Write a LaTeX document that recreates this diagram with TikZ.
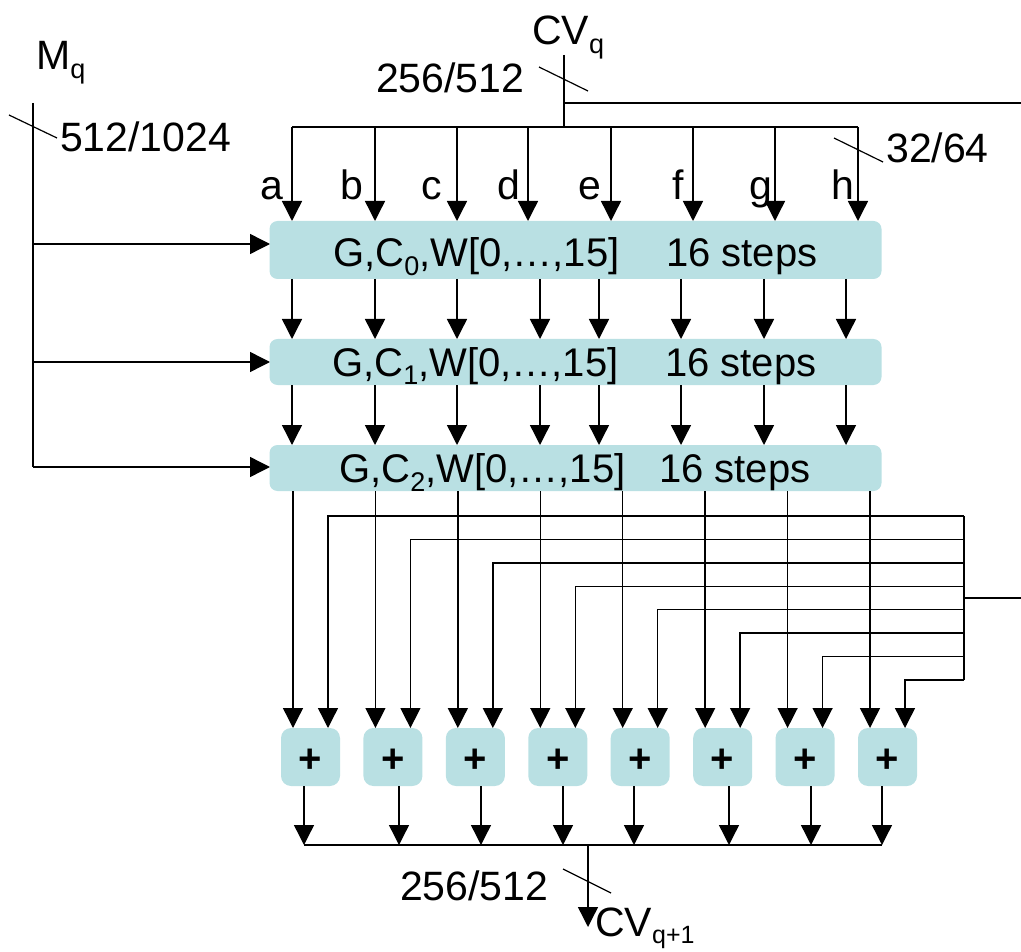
\documentclass[tikz,border=0pt]{standalone}
\usepackage{fontspec}
\setmainfont{Liberation Sans}
\usetikzlibrary{arrows.meta}
\definecolor{teal1}{RGB}{185,224,227}
\newcommand\lbsub[1]{\raisebox{-9pt}{\fontsize{27}{27}\selectfont #1}}
\newcommand\bxsub[1]{\raisebox{-9pt}{\fontsize{27}{27}\selectfont #1}}
\begin{document}
\begin{tikzpicture}[x=1pt,y=-1pt,
  ln/.style={line width=1.4pt},
  arr/.style={line width=1.4pt,-{Triangle[length=20pt,width=20pt]}},
  sl/.style={line width=1.2pt},
  lbl/.style={inner sep=0pt,font=\fontsize{41}{41}\selectfont},
  blk/.style={fill=teal1,draw=none,rounded corners=8pt,inner sep=0pt,minimum width=612pt},
  btxt/.style={inner sep=0pt,font=\fontsize{40}{40}\selectfont},
  plusbox/.style={fill=teal1,draw=none,rounded corners=10pt,minimum width=59pt,minimum height=58pt,inner sep=0pt},
  plustxt/.style={inner sep=0pt,font=\bfseries\fontsize{40}{40}\selectfont}]

\useasboundingbox (0,0) rectangle (1021,952);

% round boxes
\node[blk,minimum height=58pt] (r1) at (575.5,250) {};
\node[blk,minimum height=46pt] (r2) at (575.5,362) {};
\node[blk,minimum height=46pt] (r3) at (575.5,468) {};

\node[btxt,anchor=base west] (t1a) at (333,267) {G,C\bxsub{0},W[0,…,15]};
\node[btxt,anchor=base west] (t1b) at (666,267) {16 steps};
\node[btxt,anchor=base west] (t2a) at (332,376) {G,C\bxsub{1},W[0,…,15]};
\node[btxt,anchor=base west] (t2b) at (665,376) {16 steps};
\node[btxt,anchor=base west] (t3a) at (339,482) {G,C\bxsub{2},W[0,…,15]};
\node[btxt,anchor=base west] (t3b) at (659,482) {16 steps};

% adders
\foreach \i in {0,...,7}{
  \node[plusbox] (p\i) at ({310.5+82.43*\i},757) {};
  \node[plustxt] (pt\i) at ({310.5+82.43*\i},761) {+};
}

% M_q input
\node[lbl,anchor=base west] (mq) at (36,70) {M\lbsub{q}};
\coordinate (mtop) at (33,103);
\coordinate (mbot) at (33,467);
\draw[ln] (mtop) -- (mbot);
\draw[sl] (9,115) -- (57,138);
\node[lbl,anchor=base west] (m512) at (60,152) {512/1024};
\draw[arr] (33,244) -- (270,244);
\draw[arr] (33,362) -- (270,362);
\draw[arr] (mbot) -- (270,467);

% CV_q input
\node[lbl,anchor=base west] (cvq) at (532,45) {CV\lbsub{q}};
\node[lbl,anchor=base west] (c256) at (376,93) {256/512};
\draw[ln] (564,55) -- (564,127);
\draw[sl] (539,67) -- (588,91);
\draw[ln] (564,103) -- (1021,103);
\draw[ln] (292,127) -- (858,127);
\draw[sl] (834,138) -- (883,162);
\node[lbl,anchor=base west] (c32) at (886,163) {32/64};

\foreach \x/\l/\c in {292/a/272,375/b/352,457/c/432,528/d/509,611/e/590,693/f/678,775/g/761,858/h/843}{
  \draw[arr] (\x,127) -- (\x,221);
  \node[lbl,anchor=base] at (\c,200) {\l};
}

\foreach \x in {292,375,457,540,599,681,764,846}{
  \draw[arr] (\x,279) -- (\x,339);
  \draw[arr] (\x,385) -- (\x,445);
}

% outputs of last round to adders
\foreach \i in {0,...,7}{
  \pgfmathsetmacro{\cx}{310.5+82.43*\i}
  \pgfmathsetmacro{\fy}{516+23.43*\i}
  \draw[arr] ({\cx-17.5},491) -- ({\cx-17.5},728);
  \draw[arr] (964,\fy) -- ({\cx+17.5},\fy) -- ({\cx+17.5},728);
}
\draw[ln] (964,516) -- (964,680);
\draw[ln] (964,598) -- (1021,598);

% adder outputs
\foreach \x in {304,399,481,563,634,729,811,882}{
  \draw[arr] (\x,786) -- (\x,845);
}
\draw[ln] (304,845) -- (882,845);
\draw[arr] (588,845) -- (588,927);
\draw[sl] (563,869) -- (611,893);
\node[lbl,anchor=base west] (o256) at (400,900) {256/512};
\node[lbl,anchor=base west] (cvq1) at (595,936) {CV\raisebox{-7pt}{\fontsize{25}{25}\selectfont q+1}};
\end{tikzpicture}
\end{document}
